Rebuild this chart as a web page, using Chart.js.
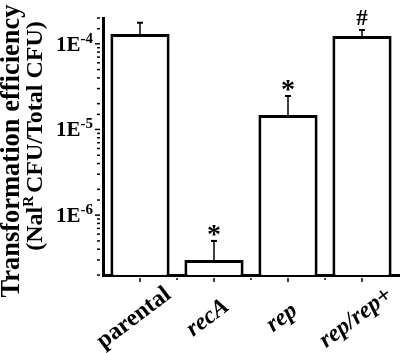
<!DOCTYPE html>
<html>
<head>
<meta charset="utf-8">
<script src="https://cdn.jsdelivr.net/npm/chart.js@4.4.0/dist/chart.umd.min.js"></script>
<style>
  html, body { margin: 0; padding: 0; background: #fff; }
  #wrap { width: 400px; height: 353px; }
</style>
</head>
<body>
<div id="wrap"><canvas id="myChart" width="400" height="353"></canvas></div>
<script>
const categories = ['parental', 'recA', 'rep', 'rep/rep+'];
const italicLabels = [false, true, true, true];
const efficiency = [1.30e-4, 3.0e-7, 1.47e-5, 1.23e-4];
const errorTop = [1.76e-4, 5.0e-7, 2.46e-5, 1.45e-4];
const marks = ['', '*', '*', '#'];
const yTickValues = [1e-6, 1e-5, 1e-4];
const yTickLabels = ['1E-6', '1E-5', '1E-4'];

const serif = '"Liberation Serif", "Times New Roman", serif';

// draws centred on (cx, cy) using the real glyph box
function fillCentered(ctx, text, cx, cy) {
  const m = ctx.measureText(text);
  ctx.textAlign = 'center';
  ctx.textBaseline = 'alphabetic';
  ctx.fillText(text, cx, cy + (m.actualBoundingBoxAscent - m.actualBoundingBoxDescent) / 2);
}

const extras = {
  id: 'extras',
  afterDatasetsDraw(chart) {
    const ctx = chart.ctx;
    const xs = chart.scales.x;
    const ys = chart.scales.y;
    ctx.save();
    ctx.strokeStyle = '#000';
    ctx.fillStyle = '#000';

    // error bars and significance marks
    categories.forEach((c, i) => {
      const cx = xs.getPixelForValue(i);
      const top = ys.getPixelForValue(efficiency[i]);
      const et = ys.getPixelForValue(errorTop[i]);
      ctx.lineWidth = 1.5;
      ctx.beginPath();
      ctx.moveTo(cx, top);
      ctx.lineTo(cx, et);
      ctx.stroke();
      ctx.lineWidth = 2;
      ctx.beginPath();
      ctx.moveTo(cx - 3, et);
      ctx.lineTo(cx + 3, et);
      ctx.stroke();
      if (marks[i]) {
        ctx.font = marks[i] === '*' ? 'bold 28px ' + serif : 'bold 23px ' + serif;
        fillCentered(ctx, marks[i], cx, et - (marks[i] === '*' ? 10 : 12));
      }
    });
    ctx.restore();
  },
  afterDraw(chart) {
    const ctx = chart.ctx;
    const xs = chart.scales.x;
    const ys = chart.scales.y;
    const area = chart.chartArea;
    const axisX = area.left - 3;
    const axisY = area.bottom + 3;
    ctx.save();
    ctx.strokeStyle = '#000';
    ctx.fillStyle = '#000';
    ctx.lineWidth = 1.5;

    // y tick marks (long at decades)
    ys.ticks.forEach(t => {
      const p = ys.getPixelForValue(t.value);
      const lg = Math.log10(t.value);
      const major = Math.abs(lg - Math.round(lg)) < 1e-6;
      const len = major ? 5 : 3;
      ctx.beginPath();
      ctx.moveTo(axisX - len, p);
      ctx.lineTo(axisX, p);
      ctx.stroke();
    });

    // y tick labels with superscript exponent
    yTickValues.forEach((v, i) => {
      const p = ys.getPixelForValue(v);
      const parts = yTickLabels[i].split('E');
      const base = parts[0] + 'E';
      const exp = parts[1];
      const right = axisX - 7;
      ctx.textBaseline = 'alphabetic';
      ctx.textAlign = 'right';
      ctx.font = 'bold 15px ' + serif;
      const ew = ctx.measureText(exp).width;
      ctx.fillText(exp, right, p - 1);
      ctx.font = 'bold 21px ' + serif;
      ctx.fillText(base, right - ew, p + 7);
    });

    // x tick marks: centres and boundaries
    const step = xs.getPixelForValue(1) - xs.getPixelForValue(0);
    categories.forEach((c, i) => {
      const cx = xs.getPixelForValue(i);
      ctx.beginPath();
      ctx.moveTo(cx, axisY);
      ctx.lineTo(cx, axisY + 4);
      ctx.stroke();
      if (i > 0) {
        ctx.beginPath();
        ctx.moveTo(cx - step / 2, axisY);
        ctx.lineTo(cx - step / 2, axisY + 2);
        ctx.stroke();
      }
    });

    // x labels, rotated about their centre
    categories.forEach((c, i) => {
      const cx = xs.getPixelForValue(i) - 6;
      ctx.save();
      ctx.translate(cx, 318);
      ctx.rotate(-37 * Math.PI / 180);
      ctx.font = (italicLabels[i] ? 'italic ' : '') + 'bold 24px ' + serif;
      ctx.textAlign = 'center';
      ctx.textBaseline = 'middle';
      ctx.fillText(c, 0, 0);
      ctx.restore();
    });

    // y title, two lines
    ctx.save();
    ctx.translate(12, 151);
    ctx.rotate(-Math.PI / 2);
    ctx.font = 'bold 26.5px ' + serif;
    ctx.textAlign = 'center';
    ctx.textBaseline = 'middle';
    ctx.fillText('Transformation efficiency', 0, 0);
    ctx.restore();

    ctx.save();
    ctx.translate(34, 136);
    ctx.rotate(-Math.PI / 2);
    ctx.textBaseline = 'alphabetic';
    ctx.textAlign = 'left';
    const pieces = [['(Nal', 24, 0], ['R', 15, -9], ['CFU/Total CFU)', 24, 0]];
    let total = 0;
    pieces.forEach(pc => { ctx.font = 'bold ' + pc[1] + 'px ' + serif; total += ctx.measureText(pc[0]).width + (pc[1] < 20 ? 3 : 0); });
    let px = -total / 2;
    pieces.forEach(pc => {
      ctx.font = 'bold ' + pc[1] + 'px ' + serif;
      ctx.fillText(pc[0], px, 8 + pc[2]);
      px += ctx.measureText(pc[0]).width + (pc[1] < 20 ? 3 : 0);
    });
    ctx.restore();

    ctx.restore();
  }
};

const chart = new Chart(document.getElementById('myChart').getContext('2d'), {
  type: 'bar',
  data: {
    labels: categories,
    datasets: [{
      data: efficiency,
      backgroundColor: '#fff',
      borderColor: '#000',
      borderWidth: 3,
      categoryPercentage: 0.8,
      barPercentage: 1
    }]
  },
  options: {
    responsive: false,
    animation: false,
    devicePixelRatio: 1,
    layout: { padding: { left: 103, top: 18, right: 1, bottom: 78 } },
    plugins: { legend: { display: false }, tooltip: { enabled: false } },
    scales: {
      x: {
        type: 'category',
        offset: true,
        grid: { display: false, drawTicks: false },
        ticks: { display: false },
        border: { display: true, color: '#000', width: 3 }
      },
      y: {
        type: 'logarithmic',
        min: 2e-7,
        max: 2e-4,
        grid: { display: false, drawTicks: false },
        ticks: { display: false },
        border: { display: true, color: '#000', width: 3 }
      }
    }
  },
  plugins: [extras]
});
</script>
</body>
</html>
